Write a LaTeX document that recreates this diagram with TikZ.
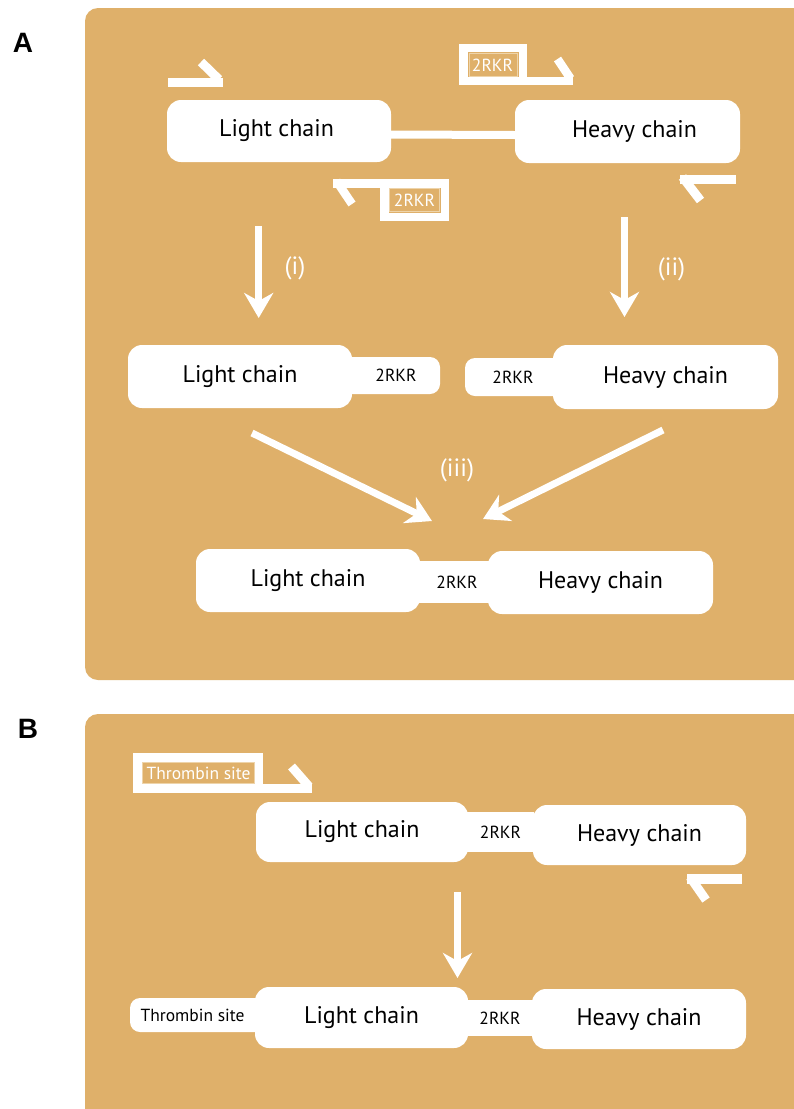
\documentclass[tikz,border=0pt]{standalone}
\usepackage{fontspec}
\setmainfont{PT Sans}
\newfontfamily\panelfont{Liberation Sans}
\usetikzlibrary{arrows.meta}
\definecolor{panelbg}{RGB}{223,176,106}
\definecolor{tagline}{RGB}{238,212,170}

\tikzset{
  chain/.style={fill=white, rounded corners=14pt, inner sep=0pt,
    font=\fontsize{24}{28}\selectfont, text=black},
  site/.style={fill=white, rounded corners=10pt, inner sep=0pt,
    font=\fontsize{17.5}{20}\selectfont, text=black},
  primer/.style={draw=white, line width=9pt},
  tagbox/.style={draw=white, line width=8.5pt},
  tagtext/.style={text=white, inner sep=0pt, font=\fontsize{17.5}{20}\selectfont},
  tagframe/.style={draw=tagline, line width=0.6pt},
  reaction/.style={draw=white, line width=7pt,
    -{Stealth[length=25pt,width=29pt,inset=8pt]}},
  steplabel/.style={text=white, inner sep=0pt, font=\fontsize{25}{28}\selectfont},
  panellabel/.style={inner sep=0pt, font=\panelfont\bfseries\fontsize{28}{30}\selectfont},
  link/.style={draw=white, line width=8pt},
}

\begin{document}
\begin{tikzpicture}[x=1pt, y=-1pt]
\useasboundingbox (0,0) rectangle (794,1109);
\clip (0,0) rectangle (794,1109);
\fill[white] (0,0) rectangle (794,1109);

% panels
\fill[panelbg, rounded corners=13pt] (85,8) rectangle (820,680);
\fill[panelbg, rounded corners=13pt] (85,714) rectangle (820,1140);
\node[panellabel] (pA) at (23,42.5) {A};
\node[panellabel] (pB) at (28,729) {B};

% ---------------- panel A: template with primers ----------------
\node[chain, minimum width=224pt, minimum height=62pt] (lcA1) at (279,131) {Light chain\hspace*{5pt}};
\node[chain, minimum width=225pt, minimum height=63pt] (hcA1) at (627.5,131.5) {\hspace*{14pt}Heavy chain};
\draw[link] ([yshift=-3.5pt]lcA1.east) -- ([yshift=-3.5pt]hcA1.west);

% forward primer, light chain
\draw[primer] (168,82.6) -- (222.7,82.6);
\draw[primer] (201,62) -- (219,79.5);

% reverse primer, light chain, with 2RKR tail
\draw[tagbox] (384.25,183.25) rectangle (444.75,216.75);
\draw[primer, line width=8.5pt] (333,183.25) -- (390,183.25);
\draw[primer, line width=8.5pt] (336.5,181) -- (352,204);
\draw[tagframe] (389.5,188.5) rectangle (439.5,211.5);
\node[tagtext] (tagA2) at (414.5,200) {2RKR};

% forward primer, heavy chain, with 2RKR tail
\draw[tagbox] (463.5,47.8) rectangle (522.8,81);
\draw[primer, line width=8.5pt] (522,81) -- (573.3,81);
\draw[primer, line width=8.5pt] (557.5,59) -- (570.5,78.5);
\draw[tagframe] (468.8,53) rectangle (517.5,75.8);
\node[tagtext] (tagA1) at (492.5,65) {2RKR};

% reverse primer, heavy chain
\draw[primer] (680,179.5) -- (736,179.5);
\draw[primer] (682.5,177) -- (700.5,200.5);

% PCR steps (i) and (ii)
\coordinate (iS) at (258.7,226);
\coordinate (iE) at (258.7,318);
\draw[reaction] (iS) -- (iE);
\node[steplabel] (labI) at (295,268) {(i)};
\coordinate (iiS) at (624.5,217);
\coordinate (iiE) at (624.5,317);
\draw[reaction] (iiS) -- (iiE);
\node[steplabel] (labII) at (671.5,269) {(ii)};

% products of (i) and (ii); the 2RKR tails run on under the chain boxes
\node[site, minimum width=112pt, minimum height=37pt] (rkA2a) at (384,375.5) {\hspace*{24pt}2RKR};
\node[chain, minimum width=224pt, minimum height=63pt] (lcA2) at (240,376.5) {Light chain};
\node[site, minimum width=112pt, minimum height=38pt] (rkA2b) at (521,377) {2RKR\hspace*{16pt}};
\node[chain, minimum width=225pt, minimum height=64pt] (hcA2) at (665.5,377) {Heavy chain};

% overlap extension (iii)
\coordinate (iiiLS) at (252,433);
\coordinate (iiiLE) at (432,521);
\coordinate (iiiRS) at (663,430);
\coordinate (iiiRE) at (483,519);
\draw[reaction] (iiiLS) -- (iiiLE);
\draw[reaction] (iiiRS) -- (iiiRE);
\node[steplabel] (labIII) at (457,470) {(iii)};

% fused product
\node[site, sharp corners, minimum width=70pt, minimum height=42pt] (rkA3) at (454,582) {\hspace*{6pt}2RKR};
\node[chain, minimum width=224pt, minimum height=63pt] (lcA3) at (308,580.5) {Light chain};
\node[chain, minimum width=225pt, minimum height=63pt] (hcA3) at (600.5,582.5) {Heavy chain};

% ---------------- panel B: adding the thrombin site ----------------
\node[site, sharp corners, minimum width=67pt, minimum height=40pt] (rkB1) at (500.5,832) {2RKR};
\node[chain, minimum width=212pt, minimum height=60pt] (lcB1) at (362,832) {Light chain};
\node[chain, minimum width=213pt, minimum height=60pt] (hcB1) at (639.5,835) {Heavy chain};

% forward primer with thrombin site tail
\draw[tagbox, line width=9.5pt] (137.75,757.75) rectangle (258.25,788.25);
\draw[primer, line width=9.5pt] (258,788.25) -- (312,788.25);
\draw[primer, line width=9pt] (291.5,766.5) -- (309,786.5);
\draw[tagframe] (142,762) rectangle (254.5,783.5);
\node[tagtext] (tagB) at (198.5,773) {Thrombin site};

% reverse primer, heavy chain
\draw[primer, line width=10pt] (687,879) -- (742,879);
\draw[primer, line width=9pt] (690,877) -- (706,900);

% PCR step
\coordinate (bS) at (457.5,892);
\coordinate (bE) at (457.5,978);
\draw[reaction, line width=6.5pt] (bS) -- (bE);

% product with thrombin site
\node[site, sharp corners, minimum width=66pt, minimum height=36pt] (rkB2) at (500,1018) {2RKR};
\node[site, minimum width=150pt, minimum height=34pt] (thB2) at (205,1015) {Thrombin site\hspace*{25pt}};
\node[chain, minimum width=213pt, minimum height=61pt] (lcB2) at (361.5,1017.5) {Light chain};
\node[chain, minimum width=214pt, minimum height=60pt] (hcB2) at (639,1019) {Heavy chain};
\end{tikzpicture}
\end{document}
